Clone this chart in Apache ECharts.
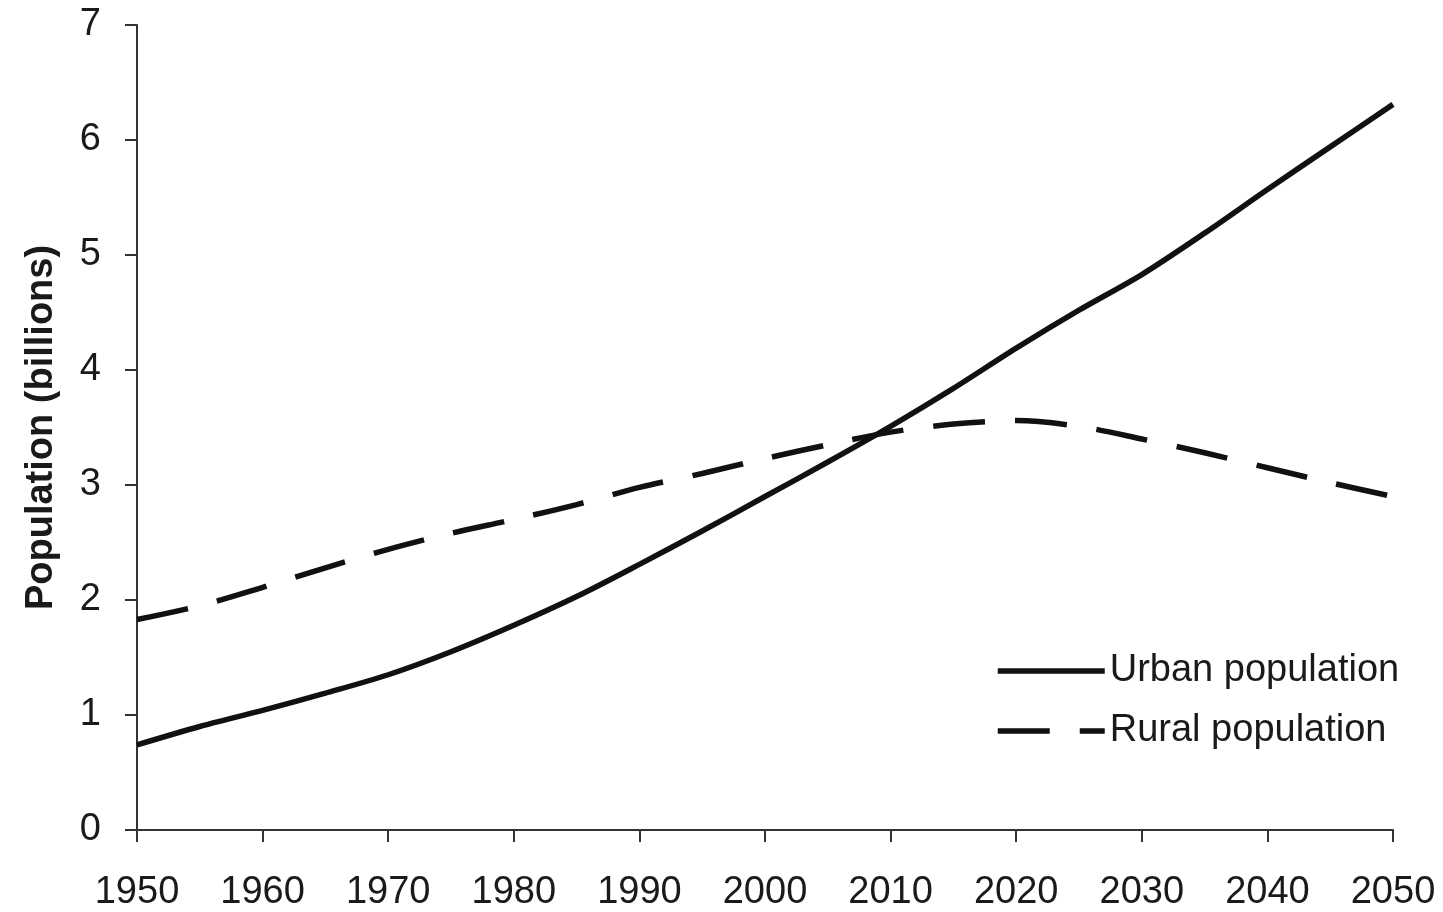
<!DOCTYPE html>
<html>
<head>
<meta charset="utf-8">
<script src="https://cdn.jsdelivr.net/npm/echarts@6/dist/echarts.min.js"></script>
<style>
html,body{margin:0;padding:0;background:#fff;}
#chart{width:1443px;height:912px;}
</style>
</head>
<body>
<div id="chart"></div>
<script>
const years = [1950,1955,1960,1965,1970,1975,1980,1985,1990,1995,2000,2005,2010,2015,2020,2025,2030,2035,2040,2045,2050];
const urbanPopulation = [0.74,0.90,1.04,1.19,1.35,1.55,1.78,2.03,2.31,2.60,2.90,3.20,3.51,3.84,4.19,4.52,4.83,5.19,5.57,5.94,6.31];
const ruralPopulation = [1.83,1.95,2.11,2.28,2.44,2.58,2.70,2.83,2.98,3.10,3.23,3.35,3.46,3.53,3.56,3.51,3.40,3.28,3.15,3.02,2.90];
const seriesNames = ['Urban population','Rural population'];
const yAxisTitle = 'Population (billions)';

const font = 'Arial, "Liberation Sans", sans-serif';
const ink = '#1a1a1a';

const chart = echarts.init(document.getElementById('chart'));
chart.setOption({
  animation: false,
  backgroundColor: '#ffffff',
  grid: {left: 137, right: 50, top: 25, bottom: 79, containLabel: false},
  legend: {
    orient: 'vertical',
    left: 995,
    top: 652,
    padding: 0,
    itemWidth: 107,
    itemHeight: 14,
    itemGap: 22,
    itemStyle: {opacity: 0},
    lineStyle: {width: 5.5, color: '#111', inactiveWidth: 5.5},
    textStyle: {fontFamily: font, fontSize: 38, color: ink},
    data: seriesNames
  },
  xAxis: {
    type: 'value',
    min: 1950, max: 2050, interval: 10,
    splitLine: {show: false},
    axisLine: {lineStyle: {color: '#333', width: 2}},
    axisTick: {length: 12, lineStyle: {color: '#333', width: 2}},
    axisLabel: {fontFamily: font, fontSize: 38, color: ink, margin: 44, formatter: v => String(v)}
  },
  yAxis: {
    type: 'value',
    min: 0, max: 7, interval: 1,
    name: yAxisTitle,
    nameLocation: 'middle',
    nameGap: 76,
    nameTextStyle: {fontFamily: font, fontSize: 38, fontWeight: 'bold', color: ink},
    splitLine: {show: false},
    axisLine: {show: true, lineStyle: {color: '#333', width: 2}},
    axisTick: {show: true, length: 12, lineStyle: {color: '#333', width: 2}},
    axisLabel: {fontFamily: font, fontSize: 38, color: ink, margin: 36}
  },
  series: [
    {
      name: seriesNames[0],
      type: 'line',
      data: years.map((y, i) => [y, urbanPopulation[i]]),
      smooth: 0.3,
      showSymbol: false,
      symbol: 'none',
      lineStyle: {color: '#111', width: 5.5, type: 'solid'},
      itemStyle: {color: '#111'}
    },
    {
      name: seriesNames[1],
      type: 'line',
      data: years.map((y, i) => [y, ruralPopulation[i]]),
      smooth: 0.3,
      showSymbol: false,
      symbol: 'none',
      lineStyle: {color: '#111', width: 5.5, type: [52, 30]},
      itemStyle: {color: '#111'}
    }
  ]
});
</script>
</body>
</html>
